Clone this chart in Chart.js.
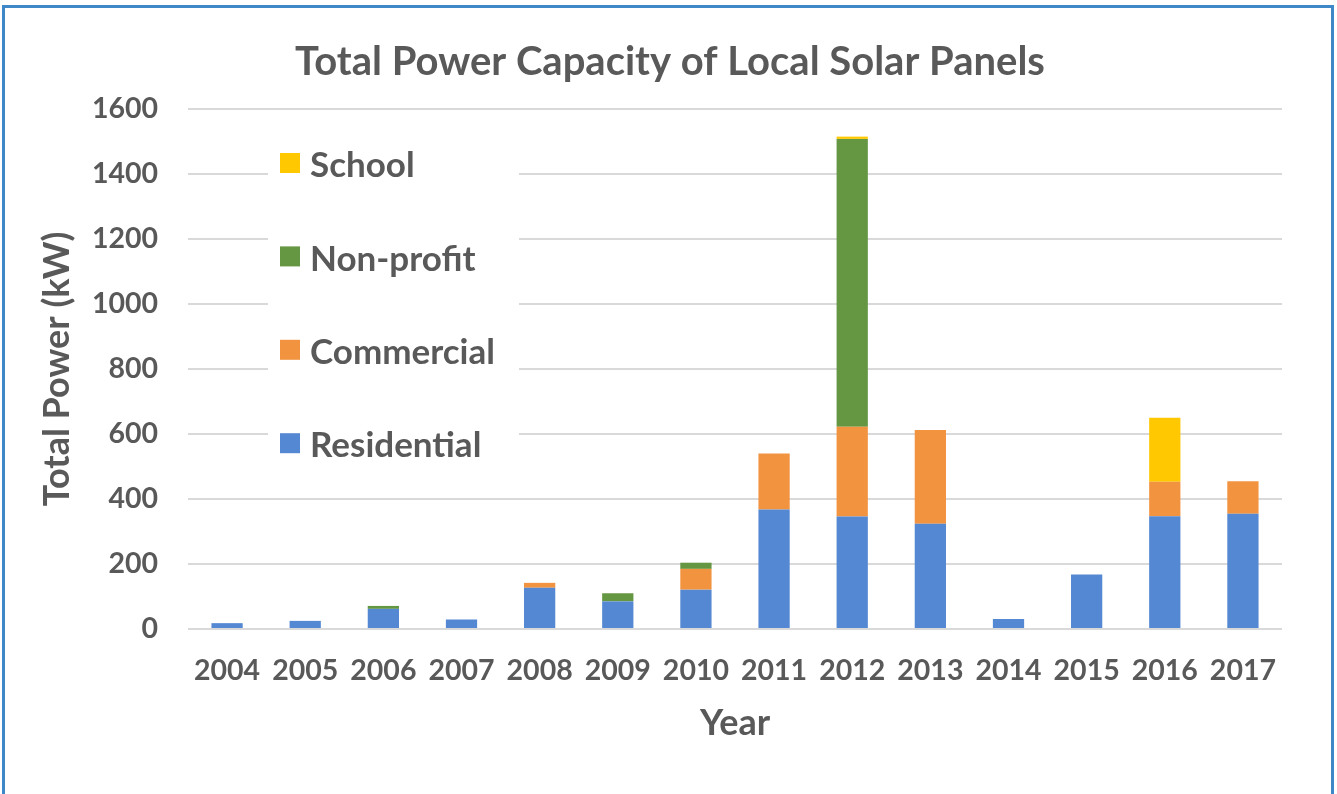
<!DOCTYPE html>
<html>
<head>
<meta charset="utf-8">
<script src="https://cdn.jsdelivr.net/npm/chart.js@4"></script>
<style>
  html, body { margin:0; padding:0; background:#fff; overflow:hidden; }
  #frame { position:absolute; left:2px; top:5px; width:1332px; height:820px; border:3px solid #3f88c8; box-sizing:border-box; }
  #wrap { position:absolute; left:0; top:0; width:1337px; height:794px; }
</style>
</head>
<body>
<div id="frame"></div>
<div id="wrap"><canvas id="solar"></canvas></div>
<script>
const years = ["2004","2005","2006","2007","2008","2009","2010","2011","2012","2013","2014","2015","2016","2017"];
const residential = [18, 25, 62, 29, 127, 85, 121, 368, 346, 324, 31, 168, 347, 355];
const commercial  = [0, 0, 0, 0, 15, 0, 64, 172, 276, 288, 0, 0, 106, 100];
const nonprofit   = [0, 0, 9, 0, 0, 25, 19, 0, 886, 0, 0, 0, 0, 0];
const school      = [0, 0, 0, 0, 0, 0, 0, 0, 7, 0, 0, 0, 197, 0];
const yTicks = [0, 200, 400, 600, 800, 1000, 1200, 1400, 1600];

const grey = '#595959';
const fontName = 'Lato';

// legend drawn inside the plot, top-down in reverse order, over a white patch
const insideLegend = {
    id: 'insideLegend',
    afterDatasetsDraw(chart){
        const ctx = chart.ctx;
        const area = chart.chartArea;
        const x0 = area.left + 92;
        ctx.save();
        ctx.fillStyle = '#fff';
        ctx.fillRect(area.left + 80, area.top + 11, 251, 350);
        const sets = chart.data.datasets.slice().reverse();
        ctx.font = 'bold 35px ' + fontName;
        ctx.textBaseline = 'middle';
        sets.forEach(function(ds, i){
            const cy = area.top + 54 + i * 93.4;
            ctx.fillStyle = ds.backgroundColor;
            ctx.fillRect(x0, cy - 10, 20, 20);
            ctx.fillStyle = grey;
            ctx.fillText(ds.label, x0 + 30, cy + 3);
        });
        ctx.restore();
    }
};

function grafico_solar(){
    const ctx = document.getElementById('solar');
    new Chart(ctx, {
        type: 'bar',
        data: {
            labels: years,
            datasets: [
                { label: 'Residential', data: residential, backgroundColor: '#5588d2' },
                { label: 'Commercial', data: commercial, backgroundColor: '#f29340' },
                { label: 'Non-profit', data: nonprofit, backgroundColor: '#659641' },
                { label: 'School', data: school, backgroundColor: '#ffc800' }
            ]
        },
        options: {
            responsive: true,
            maintainAspectRatio: false,
            animation: false,
            datasets: { bar: { categoryPercentage: 1, barPercentage: 0.4 } },
            layout: { padding: { top: 38, left: 58, right: 55, bottom: 45 } },
            plugins: {
                legend: { display: false },
                tooltip: { enabled: false },
                title: {
                    display: true,
                    text: 'Total Power Capacity of Local Solar Panels',
                    color: grey,
                    font: { family: fontName, size: 40, weight: 'bold' },
                    padding: { top: 0, bottom: 23 }
                }
            },
            scales: {
                x: {
                    stacked: true,
                    afterFit(axis){ axis.height = 120; },
                    grid: { display: false },
                    border: { display: false },
                    ticks: { color: grey, font: { family: fontName, size: 28.5, weight: 'bold' }, padding: 17 },
                    title: { display: true, text: 'Year', color: grey, font: { family: fontName, size: 36, weight: 'bold' }, padding: { top: 1 } }
                },
                y: {
                    stacked: true,
                    min: 0,
                    max: 1600,
                    afterFit(axis){ axis.width = 130; },
                    afterBuildTicks(axis){ axis.ticks = yTicks.map(v => ({ value: v })); },
                    grid: { color: '#d9d9d9', lineWidth: 2, drawTicks: false },
                    border: { display: false },
                    ticks: { color: grey, font: { family: fontName, size: 28.5, weight: 'bold' }, padding: 30, callback: v => String(v) },
                    title: { display: true, text: 'Total Power (kW)', color: grey, font: { family: fontName, size: 36, weight: 'bold' }, padding: { top: -22, bottom: 14 } }
                }
            }
        },
        plugins: [insideLegend]
    });
}

grafico_solar();
</script>
</body>
</html>
